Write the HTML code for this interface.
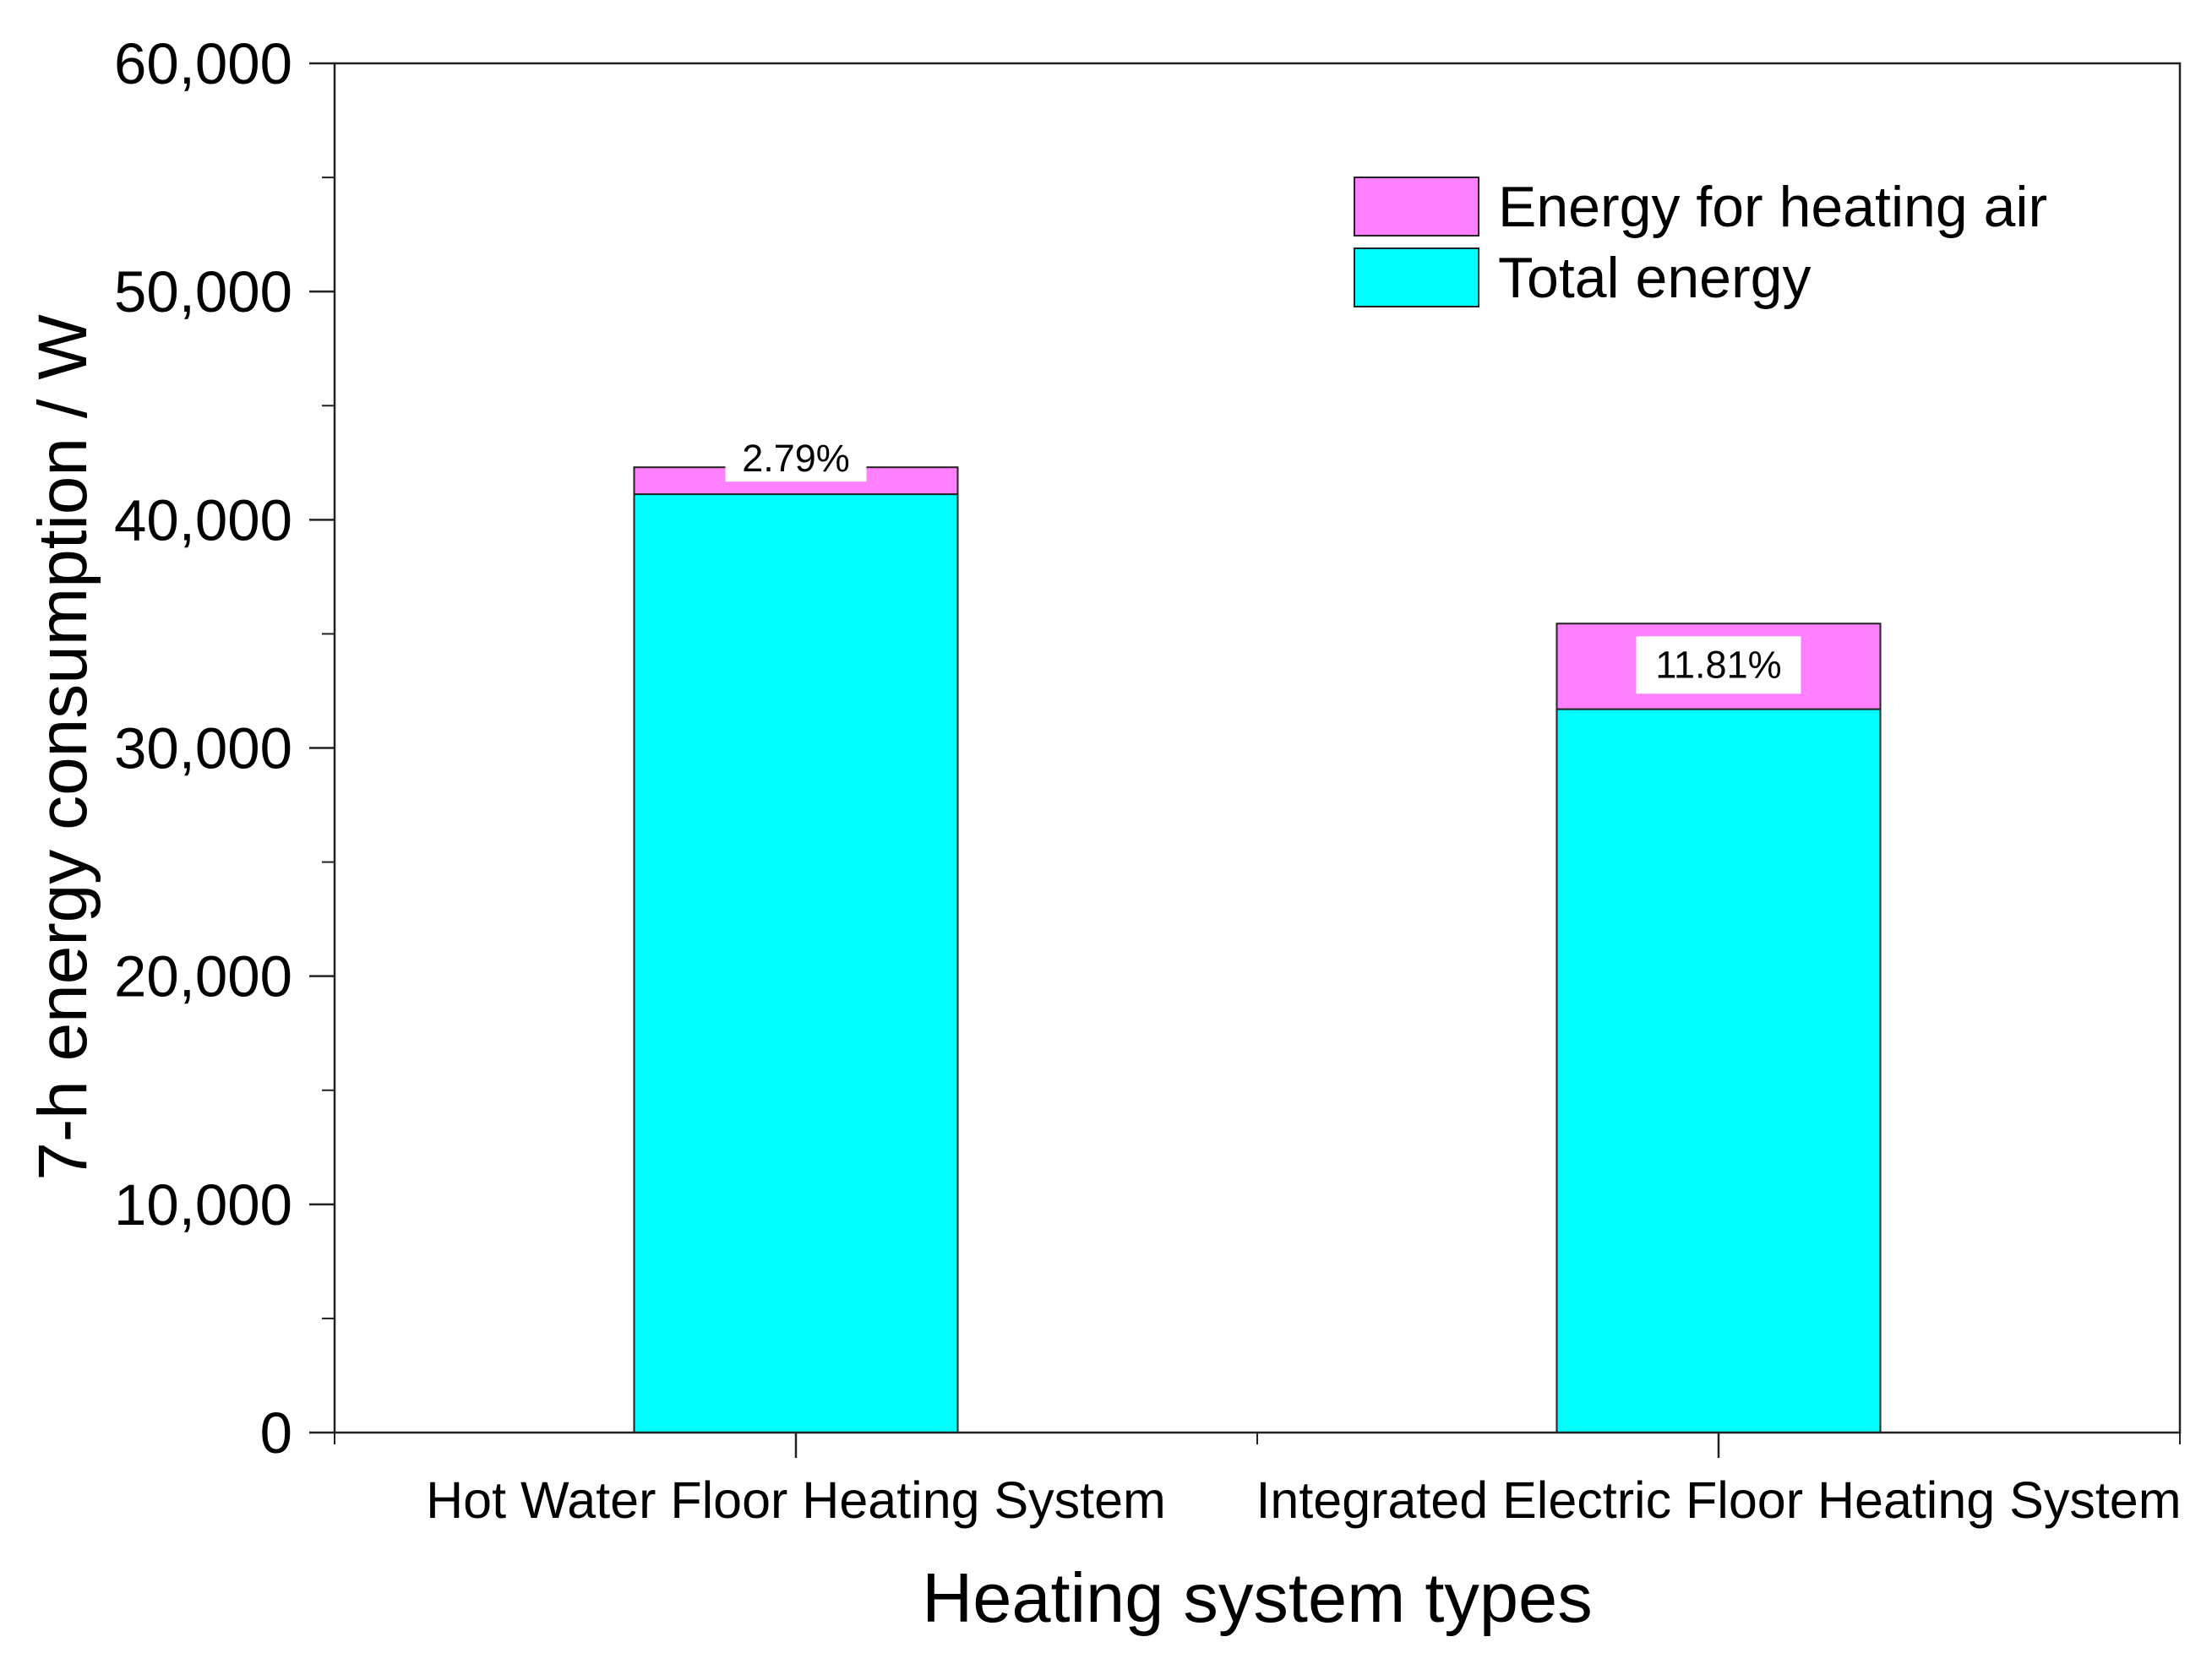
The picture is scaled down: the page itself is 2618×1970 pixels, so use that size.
<!DOCTYPE html>
<html><head><meta charset="utf-8"><style>
html,body{margin:0;padding:0;background:#fff}
svg{display:block;font-family:"Liberation Sans",Arial,sans-serif}
</style></head><body>
<svg id="chart" width="2618" height="1970" viewBox="0 0 2618 1970"></svg>
<script>
const categories = ["Hot Water Floor Heating System", "Integrated Electric Floor Heating System"];
const totalEnergy = [41120, 31700];
const airEnergy = [1180, 3750];
const pctLabels = ["2.79%", "11.81%"];
const yTicks = [0, 10000, 20000, 30000, 40000, 50000, 60000];
const yTickLabels = ["0", "10,000", "20,000", "30,000", "40,000", "50,000", "60,000"];

const NS = "http://www.w3.org/2000/svg";
const svg = document.getElementById("chart");
const L = 396, R = 2580, T = 75, B = 1696;
const yMax = 60000;
const y = v => B - (v / yMax) * (B - T);
const x = i => L + (R - L) * (0.25 + 0.5 * i);
const barW = 383;

function mk(tag, attrs, parent) {
  const e = document.createElementNS(NS, tag);
  for (const k in attrs) e.setAttribute(k, attrs[k]);
  (parent || svg).appendChild(e);
  return e;
}

categories.forEach((c, i) => {
  const cx = x(i);
  const t = mk("rect", {x: cx - barW/2, y: y(totalEnergy[i]), width: barW, height: B - y(totalEnergy[i]), fill: "#00ffff", stroke: "#222", "stroke-width": 2});
  
  
  const top = totalEnergy[i] + airEnergy[i];
  const a = mk("rect", {x: cx - barW/2, y: y(top), width: barW, height: y(totalEnergy[i]) - y(top), fill: "#ff80ff", stroke: "#222", "stroke-width": 2});
  
  
  const fs = 45;
  const bw = i === 0 ? 167 : 195;
  const by = i === 0 ? y(top) - 37 : y(top) + 15;
  const bh = i === 0 ? 54 : 68;
  const bg = mk("rect", {x: cx - bw/2, y: by, width: bw, height: bh, fill: "#fff"});
  
  
  const tx = mk("text", {x: cx, y: by + bh/2 + 15, "font-size": fs, "text-anchor": "middle", fill: "#000"});
  tx.textContent = pctLabels[i];
  
  
});

const fr = mk("rect", {x: L, y: T, width: R - L, height: B - T, fill: "none", stroke: "#222", "stroke-width": 2.5});



yTicks.forEach((v, i) => {
  const ty = y(v);
  const tk = mk("line", {x1: L - 30, x2: L, y1: ty, y2: ty, stroke: "#222", "stroke-width": 2.5});
  
  
  const lb = mk("text", {x: L - 50, y: ty + 24, "font-size": 69, "text-anchor": "end", fill: "#000"});
  lb.textContent = yTickLabels[i];
  
  
  if (i < yTicks.length - 1) {
    const my = y(v + 5000);
    const mt = mk("line", {x1: L - 15, x2: L, y1: my, y2: my, stroke: "#222", "stroke-width": 2});
    
    
  }
});

[L, (L + R) / 2, R].forEach(px => {
  const mt = mk("line", {x1: px, x2: px, y1: B, y2: B + 14, stroke: "#222", "stroke-width": 2});
  
  
});
categories.forEach((c, i) => {
  const tk = mk("line", {x1: x(i), x2: x(i), y1: B, y2: B + 30, stroke: "#222", "stroke-width": 2.5});
  
  
  const lb = mk("text", {x: x(i), y: 1797, "font-size": 61, "text-anchor": "middle", fill: "#000"});
  lb.textContent = c;
  
  
});

const xt = mk("text", {x: 1488, y: 1920, "font-size": 83, "text-anchor": "middle", fill: "#000"});
xt.textContent = "Heating system types";


const yt = mk("text", {x: 0, y: 0, "font-size": 82, "text-anchor": "middle", fill: "#000", transform: "translate(102,885) rotate(-90)"});
yt.textContent = "7-h energy consumption / W";



const lg = mk("g", {});


const legendItems = [["Energy for heating air", "#ff80ff", 210], ["Total energy", "#00ffff", 294]];
legendItems.forEach(it => {
  const r = mk("rect", {x: 1603, y: it[2], width: 147, height: 69, fill: it[1], stroke: "#222", "stroke-width": 2}, lg);
  
  
  const t = mk("text", {x: 1773, y: it[2] + 58, "font-size": 68, fill: "#000"}, lg);
  t.textContent = it[0];
  
  
});
</script>
</body></html>
